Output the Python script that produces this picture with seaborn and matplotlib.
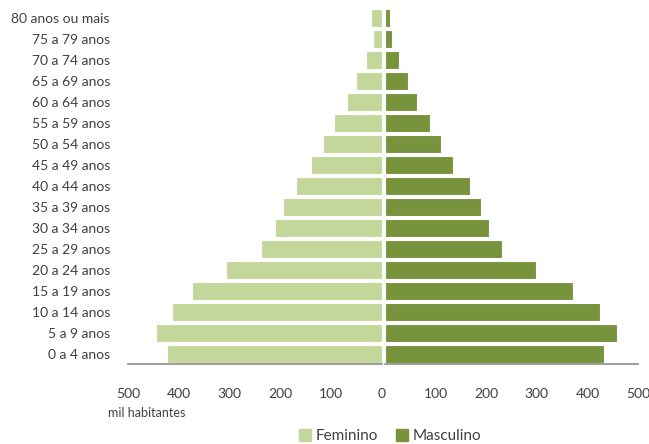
import pandas as pd
import matplotlib
matplotlib.use("Agg")
import matplotlib.pyplot as plt
import matplotlib.patches as mpatches
import seaborn as sns

# dados (mil habitantes)
faixas = ['80 anos ou mais', '75 a 79 anos', '70 a 74 anos', '65 a 69 anos',
          '60 a 64 anos', '55 a 59 anos', '50 a 54 anos', '45 a 49 anos',
          '40 a 44 anos', '35 a 39 anos', '30 a 34 anos', '25 a 29 anos',
          '20 a 24 anos', '15 a 19 anos', '10 a 14 anos', '5 a 9 anos',
          '0 a 4 anos']
feminino = [21, 18, 32, 52, 68, 94, 116, 139, 169, 194, 211, 239,
            307, 375, 414, 445, 423]
masculino = [10, 13, 28, 45, 63, 89, 111, 134, 168, 190, 206, 231,
             299, 372, 424, 458, 433]
ticks = [0, 100, 200, 300, 400, 500]

cor_fem = '#C4D79B'
cor_mas = '#77933C'
cinza = '#8C8C8C'

df = pd.DataFrame({'faixa': faixas, 'Feminino': feminino, 'Masculino': masculino})

sns.set_style('white')
plt.rcParams['font.family'] = ['Lato', 'DejaVu Sans']

fig = plt.figure(figsize=(6.49, 4.44), dpi=100)
ax_f = fig.add_axes([128/649, 80/444, 254/649, 356/444])
ax_m = fig.add_axes([385/649, 80/444, 253/649, 356/444])

sns.barplot(data=df, x='Feminino', y='faixa', order=faixas, color=cor_fem,
            width=0.86, edgecolor='white', linewidth=0.8, saturation=1, ax=ax_f)
sns.barplot(data=df, x='Masculino', y='faixa', order=faixas, color=cor_mas,
            width=0.86, edgecolor='white', linewidth=0.8, saturation=1, ax=ax_m)

ax_f.set_xlim(500, 0)
ax_m.set_xlim(0, 500)

for ax in (ax_f, ax_m):
    ax.set_xlabel('')
    ax.set_ylabel('')
    ax.set_xticks(ticks)
    for s in ['top', 'right', 'left']:
        ax.spines[s].set_visible(False)
    ax.spines['bottom'].set_color(cinza)
    ax.spines['bottom'].set_linewidth(1.2)
    ax.tick_params(axis='x', direction='out', length=4, width=1.2, color=cinza,
                   pad=13, labelsize=10, labelcolor='#404040')
    ax.set_ylim(16.5, -0.5)

ax_f.set_xticklabels([str(t) for t in ticks])
# o zero aparece uma vez so
ax_m.set_xticklabels([''] + [str(t) for t in ticks[1:]])

ax_f.tick_params(axis='y', length=0, pad=13, labelsize=10, labelcolor='#404040')
ax_m.tick_params(axis='y', length=0, labelleft=False)

fig.text(108/649, 1 - 413/444, 'mil habitantes', fontsize=9, color='#404040',
         va='center', ha='left')

handles = [mpatches.Patch(color=cor_fem, label='Feminino'),
           mpatches.Patch(color=cor_mas, label='Masculino')]
fig.legend(handles=handles, loc='center', bbox_to_anchor=(390/649, 1 - 436/444),
           ncol=2, frameon=False, fontsize=11, handlelength=0.8, handleheight=0.8,
           handletextpad=0.3, columnspacing=1.2, labelcolor='#404040')

fig.savefig('out.png', dpi=100)
